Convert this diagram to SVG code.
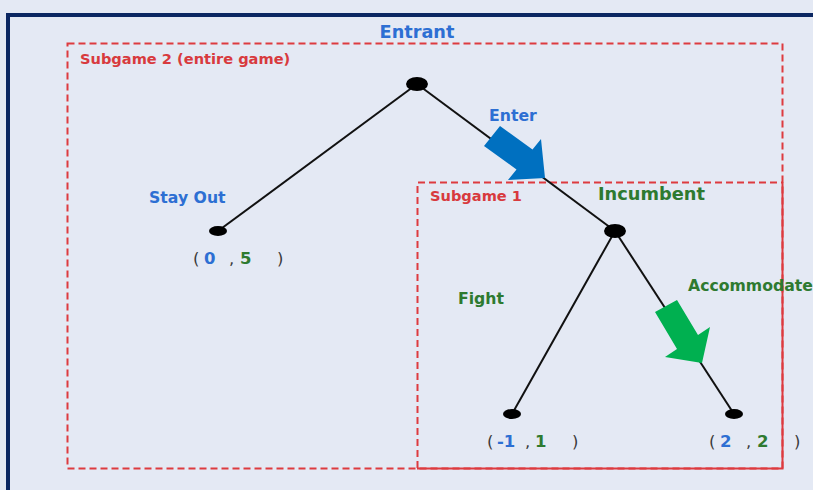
<svg xmlns="http://www.w3.org/2000/svg" width="813" height="490" viewBox="0 0 813 490">
<style>
text{font-family:"DejaVu Sans","Liberation Sans",sans-serif;font-weight:bold}
.blue{fill:#2d6fd3}
.green{fill:#2e7a30}
.red{fill:#d83a3e}
.par{fill:#3a3a3a;font-weight:normal}
.edge{stroke:#111;stroke-width:2;fill:none}
.node{fill:#000}
.dash{fill:none;stroke:#dd3b3f;stroke-width:2;stroke-dasharray:7,4}
.solid{fill:none;stroke:#dd3b3f;stroke-width:2}
.lbl{font-size:15.7px}
</style>
<rect x="0" y="0" width="813" height="490" fill="#e4e9f4"/>
<rect x="8" y="15" width="820" height="490" fill="#e4e9f4" stroke="#0b2762" stroke-width="4"/>
<g id="subgame2">
<rect class="dash" x="67.5" y="43.5" width="715" height="425"/>
<text class="red" x="80" y="64" font-size="14.6">Subgame 2 (entire game)</text>
</g>
<g id="subgame1">
<path class="dash" d="M417.5,468 V182.5 H782"/>
<path class="solid" d="M417,468.5 H782.5 V182"/>
<text class="red" x="430" y="201" font-size="14.6">Subgame 1</text>
</g>
<g id="connectors">
<line class="edge" x1="417" y1="84" x2="218" y2="231"/>
<line class="edge" x1="417" y1="84" x2="615" y2="231"/>
<line class="edge" x1="615" y1="231" x2="512" y2="414"/>
<line class="edge" x1="615" y1="231" x2="734" y2="414"/>
<polygon fill="#0070c0" points="500,126 532.5,149.5 541,139 545,178 508,180 516.5,169.5 484,146"/>
<polygon fill="#00b050" points="677,300 698,335 710,327 702,363 665,357 677,349 655,312"/>
</g>
<g id="entrant">
<ellipse class="node" cx="417" cy="84" rx="11" ry="7"/>
<text class="blue" x="417" y="38" font-size="17.7" text-anchor="middle">Entrant</text>
</g>
<g id="incumbent">
<ellipse class="node" cx="615" cy="231" rx="11" ry="7"/>
<text class="green" x="598" y="200" font-size="17.8">Incumbent</text>
</g>
<g id="leaf-stayout">
<ellipse class="node" cx="218" cy="231" rx="9" ry="5"/>
<text x="193" y="264" font-size="16.5"><tspan class="par">(</tspan><tspan class="blue" x="204">0</tspan><tspan class="par" x="229">,</tspan><tspan class="green" x="240">5</tspan><tspan class="par" x="277">)</tspan></text>
</g>
<g id="leaf-fight">
<ellipse class="node" cx="512" cy="414" rx="9" ry="5"/>
<text x="487" y="447" font-size="16.5"><tspan class="par">(</tspan><tspan class="blue" x="497">-1</tspan><tspan class="par" x="525">,</tspan><tspan class="green" x="535">1</tspan><tspan class="par" x="572">)</tspan></text>
</g>
<g id="leaf-accommodate">
<ellipse class="node" cx="734" cy="414" rx="9" ry="5"/>
<text x="709" y="447" font-size="16.5"><tspan class="par">(</tspan><tspan class="blue" x="720">2</tspan><tspan class="par" x="746">,</tspan><tspan class="green" x="757">2</tspan><tspan class="par" x="794">)</tspan></text>
</g>
<g id="labels">
<text class="blue lbl" x="489" y="121">Enter</text>
<text class="blue lbl" x="149" y="203">Stay Out</text>
<text class="green lbl" x="458" y="304">Fight</text>
<text class="green lbl" x="688" y="291" font-size="16">Accommodate</text>
</g>
</svg>
